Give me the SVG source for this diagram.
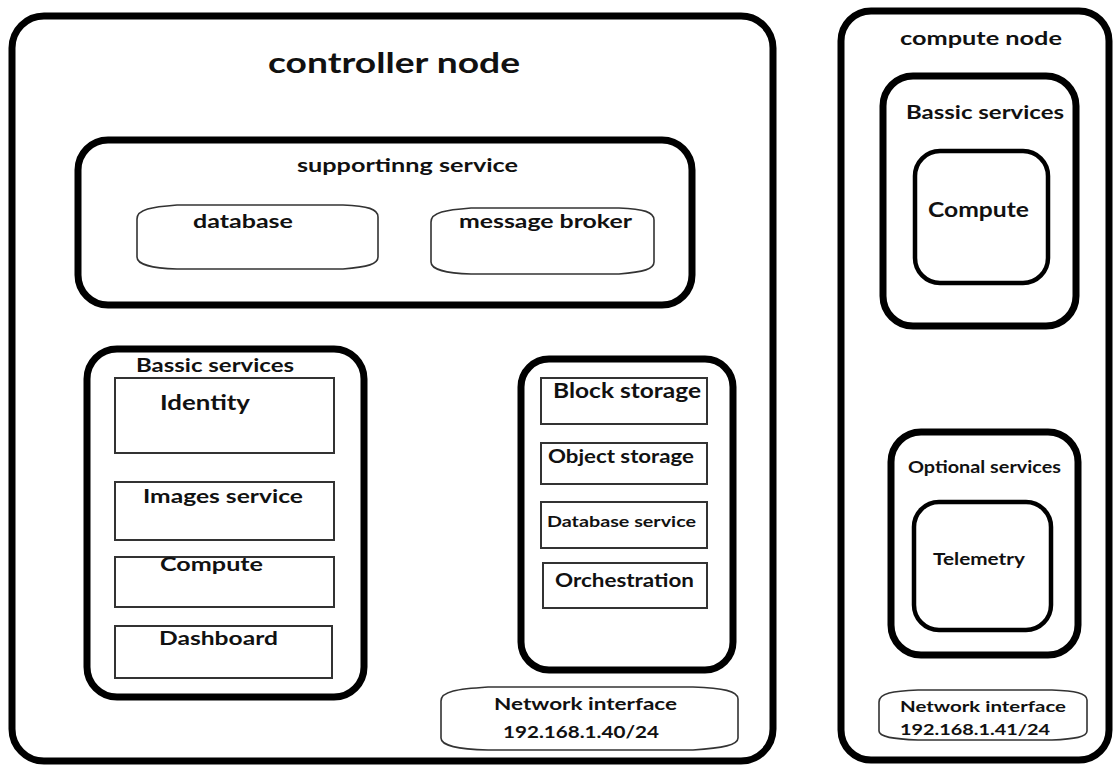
<svg xmlns="http://www.w3.org/2000/svg" width="1114" height="766" viewBox="0 0 1114 766">
<style>
.box{fill:none;stroke:#000;stroke-width:7}
.inner{fill:none;stroke:#000;stroke-width:4.5}
.rect{fill:none;stroke:#333;stroke-width:2}
.scroll{fill:none;stroke:#333;stroke-width:1.6}
text{font-family:Lato,"Open Sans","Liberation Sans",sans-serif;font-weight:700;fill:#111}
</style>
<rect width="1114" height="766" fill="#fff"/>
<g id="controller-node">
<rect class="box" x="12" y="16" width="761" height="745" rx="32"/>
<text x="268" y="73" font-size="28" textLength="252" lengthAdjust="spacingAndGlyphs">controller node</text>
</g>
<g id="supporting-service">
<rect class="box" x="78" y="140" width="614" height="165" rx="30"/>
<text x="297" y="172" font-size="19" textLength="221" lengthAdjust="spacingAndGlyphs">supportinng service</text>
</g>
<g id="database">
<path class="scroll" d="M137,219 C137,209 152,207 177,205 L343,205 C368,206 378,209 378,217 L378,257 C378,264 368,267 343,269 L177,269 C152,268 137,265 137,257 Z"/>
<text x="193" y="228" font-size="19" textLength="100" lengthAdjust="spacingAndGlyphs">database</text>
</g>
<g id="message-broker">
<path class="scroll" d="M431,222 C431,212 446,210 471,208 L619,208 C644,209 654,212 654,220 L654,262 C654,269 644,272 619,274 L471,274 C446,273 431,270 431,262 Z"/>
<text x="459" y="228" font-size="19" textLength="173" lengthAdjust="spacingAndGlyphs">message broker</text>
</g>
<g id="basic-services-controller">
<rect class="box" x="87" y="349" width="277" height="348" rx="30"/>
<text x="136" y="372" font-size="19" textLength="158" lengthAdjust="spacingAndGlyphs">Bassic services</text>
</g>
<g id="identity">
<rect class="rect" x="115" y="378" width="219" height="75"/>
<text x="160" y="410" font-size="20" textLength="90" lengthAdjust="spacingAndGlyphs">Identity</text>
</g>
<g id="images-service">
<rect class="rect" x="115" y="482" width="219" height="58"/>
<text x="143" y="503" font-size="19" textLength="160" lengthAdjust="spacingAndGlyphs">Images service</text>
</g>
<g id="compute-ctrl">
<rect class="rect" x="115" y="557" width="219" height="50"/>
<text x="160" y="571" font-size="19" textLength="103" lengthAdjust="spacingAndGlyphs">Compute</text>
</g>
<g id="dashboard">
<rect class="rect" x="115" y="626" width="217" height="52"/>
<text x="159" y="645" font-size="19" textLength="119" lengthAdjust="spacingAndGlyphs">Dashboard</text>
</g>
<g id="storage-services">
<rect class="box" x="521" y="359" width="212" height="311" rx="28"/>
</g>
<g id="block-storage">
<rect class="rect" x="541" y="378" width="166" height="46"/>
<text x="553" y="398" font-size="20" textLength="148" lengthAdjust="spacingAndGlyphs">Block storage</text>
</g>
<g id="object-storage">
<rect class="rect" x="541" y="443" width="166" height="41"/>
<text x="548" y="463" font-size="18" textLength="146" lengthAdjust="spacingAndGlyphs">Object storage</text>
</g>
<g id="database-service">
<rect class="rect" x="541" y="502" width="166" height="46"/>
<text x="547" y="527" font-size="16" textLength="149" lengthAdjust="spacingAndGlyphs">Database service</text>
</g>
<g id="orchestration">
<rect class="rect" x="543" y="563" width="164" height="45"/>
<text x="555" y="587" font-size="19" textLength="139" lengthAdjust="spacingAndGlyphs">Orchestration</text>
</g>
<g id="network-interface-controller">
<path class="scroll" d="M441,701 C441,691 458,689 488,687 L693,687 C723,688 738,691 738,699 L738,738 C738,745 723,748 693,750 L488,750 C458,749 441,746 441,738 Z"/>
<text x="494" y="710" font-size="17" textLength="183" lengthAdjust="spacingAndGlyphs">Network interface</text>
<text x="503" y="738" font-size="17" textLength="156" lengthAdjust="spacingAndGlyphs">192.168.1.40/24</text>
</g>
<g id="compute-node">
<rect class="box" x="841" y="11" width="268" height="749" rx="30"/>
<text x="900" y="45" font-size="18" textLength="162" lengthAdjust="spacingAndGlyphs">compute node</text>
</g>
<g id="basic-services-compute">
<rect class="box" x="883" y="76" width="193" height="250" rx="30"/>
<text x="906" y="119" font-size="19" textLength="158" lengthAdjust="spacingAndGlyphs">Bassic services</text>
</g>
<g id="compute-comp">
<rect class="inner" x="915" y="151" width="133" height="132" rx="25"/>
<text x="928" y="217" font-size="20" textLength="101" lengthAdjust="spacingAndGlyphs">Compute</text>
</g>
<g id="optional-services">
<rect class="box" x="891" y="432" width="187" height="223" rx="30"/>
<text x="908" y="473" font-size="17" textLength="153" lengthAdjust="spacingAndGlyphs">Optional services</text>
</g>
<g id="telemetry">
<rect class="inner" x="914" y="502" width="137" height="128" rx="25"/>
<text x="933" y="565" font-size="17" textLength="92" lengthAdjust="spacingAndGlyphs">Telemetry</text>
</g>
<g id="network-interface-compute">
<path class="scroll" d="M879,702 C879,693 893,691 918,690 L1052,690 C1075,691 1087,693 1087,700 L1087,731 C1087,737 1075,739 1052,740 L918,740 C893,739 879,737 879,731 Z"/>
<text x="900" y="712" font-size="16" textLength="166" lengthAdjust="spacingAndGlyphs">Network interface</text>
<text x="900" y="735" font-size="16" textLength="150" lengthAdjust="spacingAndGlyphs">192.168.1.41/24</text>
</g>
<g id="connectors"/>
</svg>
